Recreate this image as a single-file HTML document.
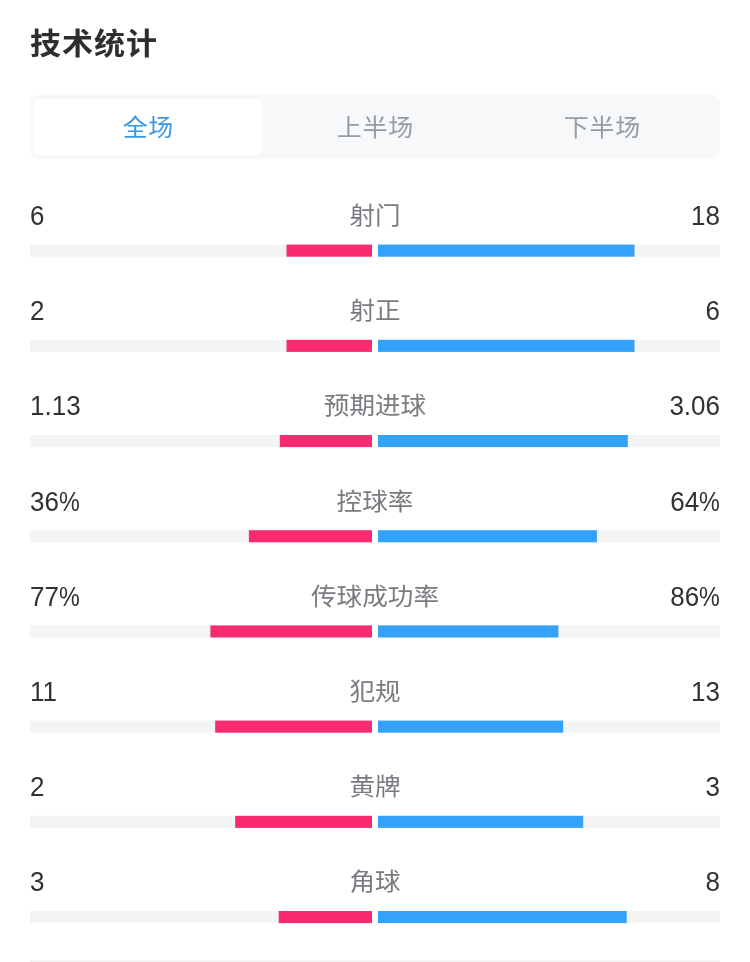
<!DOCTYPE html>
<html lang="zh-CN"><head><meta charset="utf-8"><title>技术统计</title>
<style>
*{box-sizing:border-box;margin:0;padding:0}
html,body{width:750px;height:962px;background:#fff;overflow:hidden}
body{position:relative;font-family:"Liberation Sans","Noto Sans CJK SC",sans-serif;color:#323232}
.title{position:absolute;left:30px;top:22.6px;font-size:31px;line-height:44px;font-weight:700;color:#2e2e2e;letter-spacing:1px;white-space:nowrap;transform:scaleY(.945);transform-origin:0 50%}
.tabs{position:absolute;left:30px;top:95px;width:690px;height:64px;background:#f7f8fa;border-radius:8px}
.tab{position:absolute;top:4px;height:56px;width:228px;line-height:56px;text-align:center;font-size:25px;letter-spacing:.7px;text-indent:.7px;color:#959ba6}
.tab.on{top:4px;line-height:56px;background:#fff;border-radius:6px;color:#3a97e6}

.tab b{display:block;font-weight:400;transform:scaleY(.95);transform-origin:50% 50%}
.row{position:absolute;left:30px;width:690px;height:95px}
.l,.r,.c{position:absolute;top:0;font-size:26px;line-height:36px;color:#323232;white-space:nowrap}
.l{left:0;transform:scaleY(1.07);transform-origin:0 27px}
.r{right:0;transform:scaleY(1.07);transform-origin:100% 27px}
.p{display:inline-block;transform:scaleX(.9);transform-origin:0 50%;margin-right:-2.3px}
.c{left:0;right:0;text-align:center;color:#787b80;font-size:25.6px;font-weight:400;transform:scaleY(.94);transform-origin:50% 17px}
svg.bars{position:absolute;left:0;top:0;width:750px;height:962px}
</style></head><body>
<div class="title">技术统计</div>
<div class="tabs">
<div class="tab on" style="left:4px"><b>全场</b></div>
<div class="tab" style="left:231px"><b>上半场</b></div>
<div class="tab" style="left:458px"><b>下半场</b></div>
</div>
<div class="row" style="top:198.0px"><span class="l">6</span><span class="c">射门</span><span class="r">18</span></div>
<div class="row" style="top:293.2px"><span class="l">2</span><span class="c">射正</span><span class="r">6</span></div>
<div class="row" style="top:388.4px"><span class="l">1.13</span><span class="c">预期进球</span><span class="r">3.06</span></div>
<div class="row" style="top:483.6px"><span class="l">36<span class="p">%</span></span><span class="c">控球率</span><span class="r">64<span class="p">%</span></span></div>
<div class="row" style="top:578.8px"><span class="l">77<span class="p">%</span></span><span class="c">传球成功率</span><span class="r">86<span class="p">%</span></span></div>
<div class="row" style="top:674.0px"><span class="l">11</span><span class="c">犯规</span><span class="r">13</span></div>
<div class="row" style="top:769.2px"><span class="l">2</span><span class="c">黄牌</span><span class="r">3</span></div>
<div class="row" style="top:864.4px"><span class="l">3</span><span class="c">角球</span><span class="r">8</span></div>
<svg class="bars" viewBox="0 0 750 962">
<rect x="30" y="244.6" width="342" height="12.1" fill="#f4f4f4"/><rect x="378" y="244.6" width="342" height="12.1" fill="#f4f4f4"/><rect x="286.5" y="244.6" width="85.5" height="12.1" fill="#f92a71"/><rect x="378" y="244.6" width="256.5" height="12.1" fill="#34a1fa"/>
<rect x="30" y="339.8" width="342" height="12.1" fill="#f4f4f4"/><rect x="378" y="339.8" width="342" height="12.1" fill="#f4f4f4"/><rect x="286.5" y="339.8" width="85.5" height="12.1" fill="#f92a71"/><rect x="378" y="339.8" width="256.5" height="12.1" fill="#34a1fa"/>
<rect x="30" y="435.0" width="342" height="12.1" fill="#f4f4f4"/><rect x="378" y="435.0" width="342" height="12.1" fill="#f4f4f4"/><rect x="279.8" y="435.0" width="92.2" height="12.1" fill="#f92a71"/><rect x="378" y="435.0" width="249.8" height="12.1" fill="#34a1fa"/>
<rect x="30" y="530.2" width="342" height="12.1" fill="#f4f4f4"/><rect x="378" y="530.2" width="342" height="12.1" fill="#f4f4f4"/><rect x="248.9" y="530.2" width="123.1" height="12.1" fill="#f92a71"/><rect x="378" y="530.2" width="218.9" height="12.1" fill="#34a1fa"/>
<rect x="30" y="625.4" width="342" height="12.1" fill="#f4f4f4"/><rect x="378" y="625.4" width="342" height="12.1" fill="#f4f4f4"/><rect x="210.4" y="625.4" width="161.6" height="12.1" fill="#f92a71"/><rect x="378" y="625.4" width="180.4" height="12.1" fill="#34a1fa"/>
<rect x="30" y="720.6" width="342" height="12.1" fill="#f4f4f4"/><rect x="378" y="720.6" width="342" height="12.1" fill="#f4f4f4"/><rect x="215.2" y="720.6" width="156.8" height="12.1" fill="#f92a71"/><rect x="378" y="720.6" width="185.2" height="12.1" fill="#34a1fa"/>
<rect x="30" y="815.8" width="342" height="12.1" fill="#f4f4f4"/><rect x="378" y="815.8" width="342" height="12.1" fill="#f4f4f4"/><rect x="235.2" y="815.8" width="136.8" height="12.1" fill="#f92a71"/><rect x="378" y="815.8" width="205.2" height="12.1" fill="#34a1fa"/>
<rect x="30" y="911.0" width="342" height="12.1" fill="#f4f4f4"/><rect x="378" y="911.0" width="342" height="12.1" fill="#f4f4f4"/><rect x="278.7" y="911.0" width="93.3" height="12.1" fill="#f92a71"/><rect x="378" y="911.0" width="248.7" height="12.1" fill="#34a1fa"/>
<rect x="30" y="960.6" width="690" height="1.4" fill="#efefef"/>
</svg>
</body></html>
